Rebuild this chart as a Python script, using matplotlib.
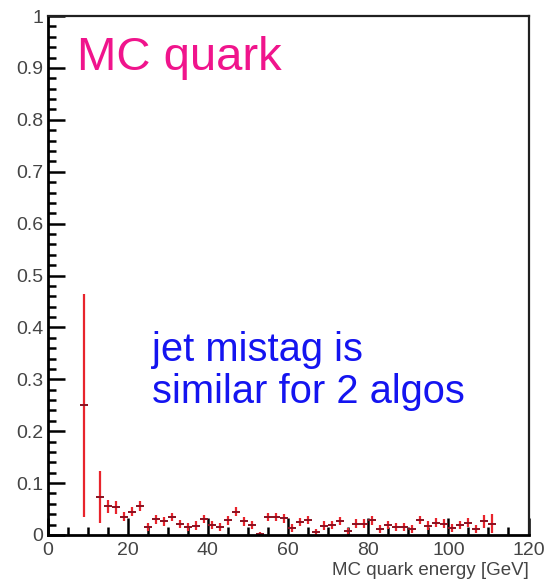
import numpy as np
import matplotlib.pyplot as plt
from matplotlib.ticker import MultipleLocator, FuncFormatter

plt.rcParams['font.family'] = ['Liberation Sans', 'DejaVu Sans']

# mistag fraction per 2 GeV bin of MC quark energy
energy = [9, 13, 15, 17, 19, 21, 23, 25, 27, 29, 31, 33, 35, 37, 39, 41,
          43, 45, 47, 49, 51, 53, 55, 57, 59, 61, 63, 65, 67, 69, 71, 73,
          75, 77, 79, 81, 83, 85, 87, 89, 91, 93, 95, 97, 99, 101, 103,
          105, 107, 109, 111]
mistag = [0.250, 0.074, 0.055, 0.053, 0.035, 0.045, 0.056, 0.016, 0.030,
          0.026, 0.035, 0.021, 0.016, 0.018, 0.031, 0.019, 0.016, 0.028,
          0.045, 0.026, 0.019, 0.002, 0.034, 0.034, 0.032, 0.013, 0.025,
          0.029, 0.006, 0.018, 0.019, 0.027, 0.008, 0.022, 0.022, 0.028,
          0.011, 0.019, 0.016, 0.016, 0.011, 0.029, 0.018, 0.024, 0.022,
          0.013, 0.019, 0.024, 0.011, 0.026, 0.022]
mistag_err = [0.215, 0.050, 0.013, 0.012, 0.009, 0.009, 0.009, 0.008,
              0.008, 0.008, 0.008, 0.008, 0.008, 0.008, 0.008, 0.008,
              0.008, 0.008, 0.008, 0.008, 0.008, 0.004, 0.008, 0.008,
              0.008, 0.008, 0.008, 0.008, 0.006, 0.008, 0.008, 0.008,
              0.006, 0.008, 0.008, 0.008, 0.008, 0.008, 0.008, 0.008,
              0.008, 0.008, 0.008, 0.008, 0.008, 0.008, 0.008, 0.008,
              0.008, 0.012, 0.018]
bin_half = 1.0

fig = plt.figure(figsize=(5.46, 5.85), dpi=100)
ax = fig.add_axes([0.087, 0.0855, 0.881, 0.887])

ax.errorbar(energy, mistag, yerr=mistag_err, fmt='none',
            ecolor='#e8242c', elinewidth=1.6)
ax.errorbar(energy, mistag, xerr=bin_half, fmt='none',
            ecolor='#8a1020', elinewidth=1.4)

ax.set_xlim(0, 120)
ax.set_ylim(0, 1)

ax.xaxis.set_major_locator(MultipleLocator(20))
ax.xaxis.set_minor_locator(MultipleLocator(5))
ax.yaxis.set_major_locator(MultipleLocator(0.1))
ax.yaxis.set_minor_locator(MultipleLocator(0.02))
ax.yaxis.set_major_formatter(FuncFormatter(lambda v, p: '%g' % round(v, 2)))

ax.tick_params(which='both', direction='in', top=False, right=False,
               colors='black', labelcolor='#444444', labelsize=14, width=1.8)
ax.tick_params(which='major', length=12)
ax.tick_params(which='minor', length=6)
ax.tick_params(axis='y', pad=3)
ax.tick_params(axis='x', pad=5)

for side in ['left', 'bottom']:
    ax.spines[side].set_linewidth(2.0)
for side in ['top', 'right']:
    ax.spines[side].set_linewidth(1.6)
    ax.spines[side].set_color('#202020')

ax.set_xlabel('MC quark energy [GeV]', loc='right', fontsize=13.5,
              color='#444444', labelpad=2)

ax.text(7.3, 0.896, 'MC quark', color='#f0148c', fontsize=34,
        va='baseline', ha='left')
ax.text(26.1, 0.335, 'jet mistag is', color='#1414f0', fontsize=28.7,
        va='baseline', ha='left')
ax.text(26.1, 0.254, 'similar for 2 algos', color='#1414f0', fontsize=28.7,
        va='baseline', ha='left')

fig.savefig('out.png', dpi=100)
